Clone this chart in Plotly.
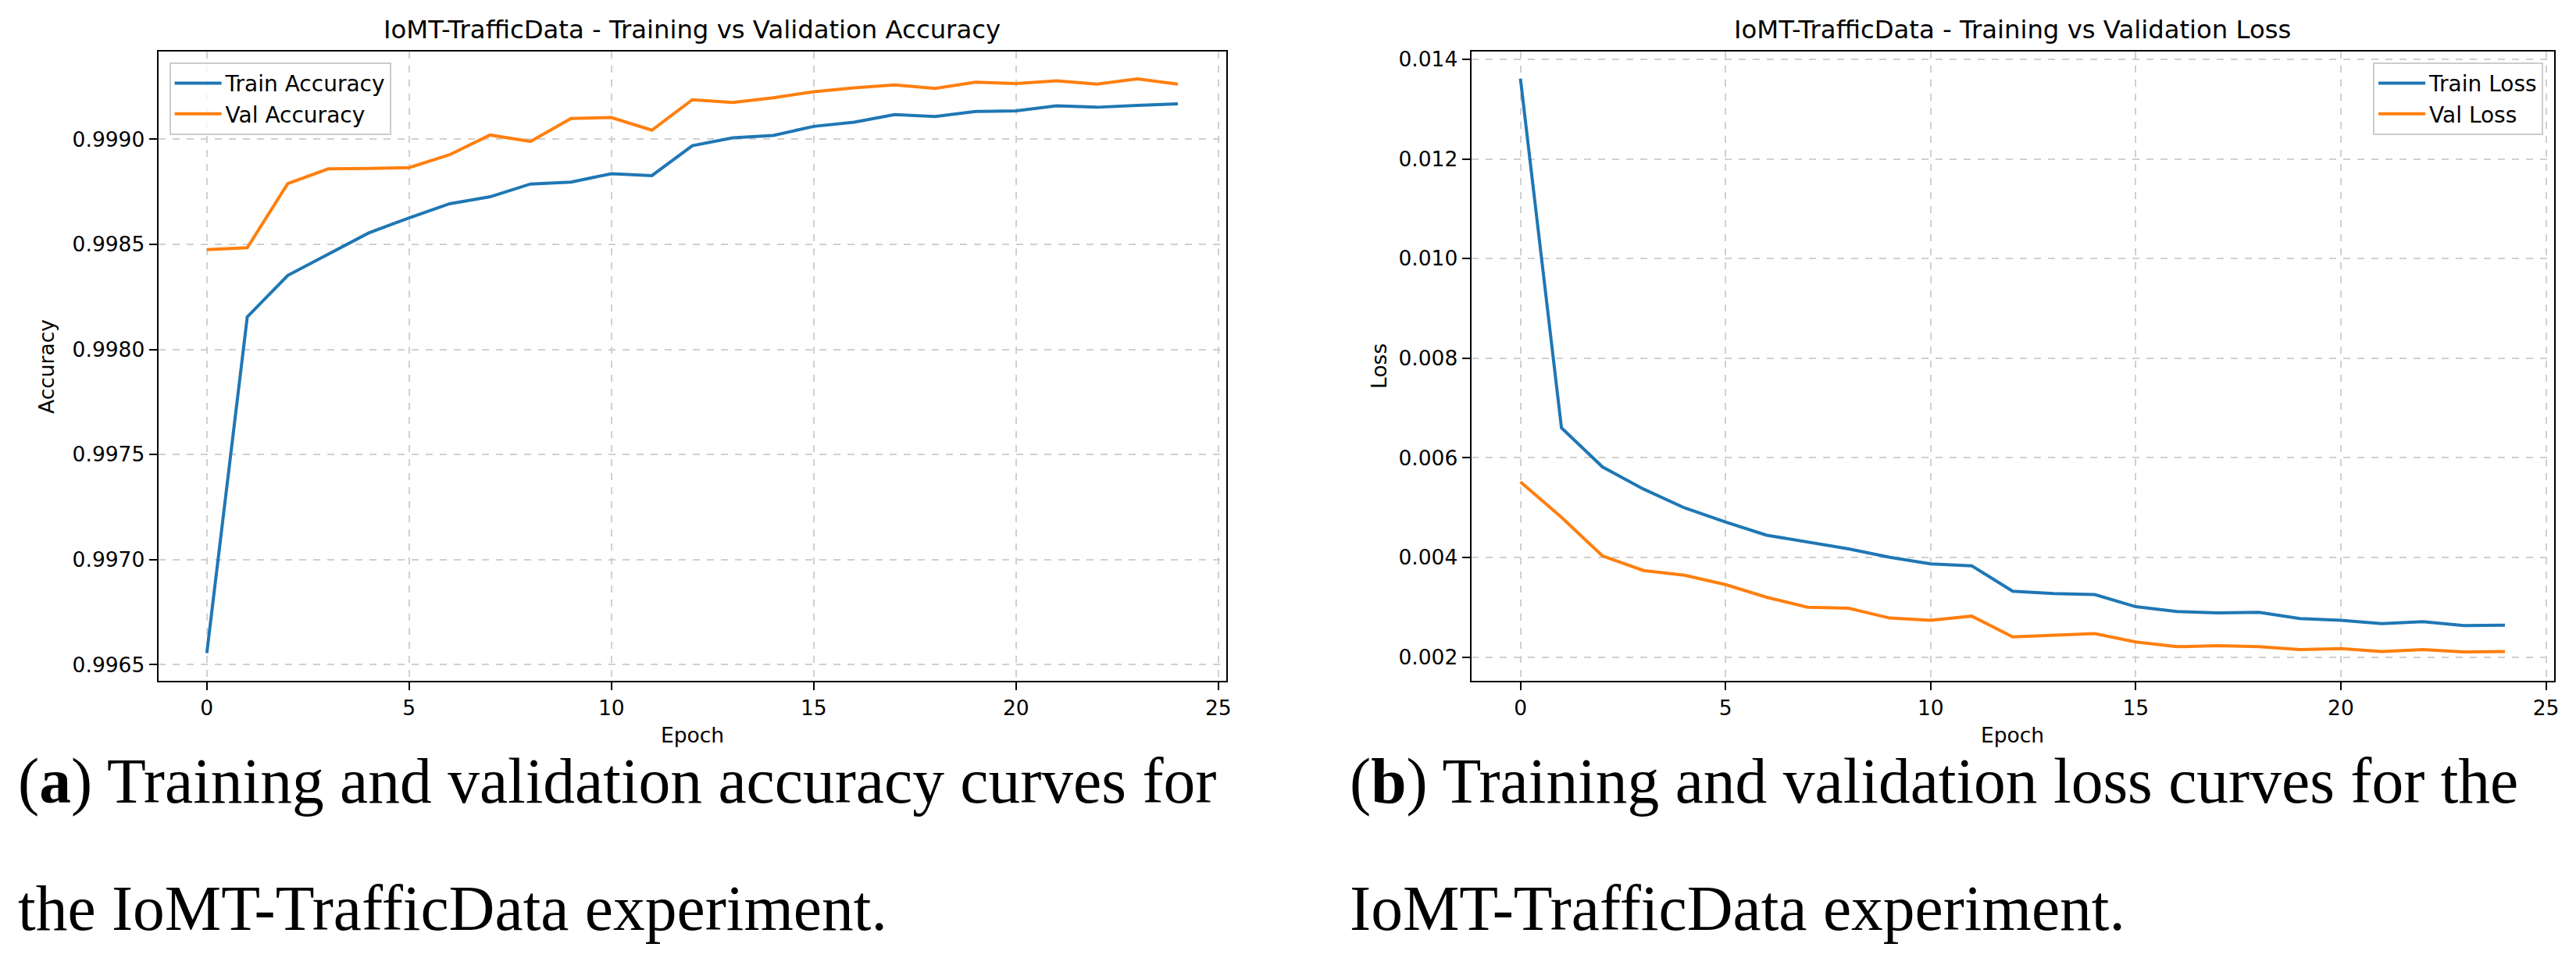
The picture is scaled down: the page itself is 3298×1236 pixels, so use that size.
import plotly.graph_objects as go

epochs = list(range(25))

train_acc = [0.996556, 0.998155, 0.998352, 0.998455, 0.998554, 0.998626, 0.998693, 0.998726,
             0.998787, 0.998796, 0.998836, 0.998827, 0.998969, 0.999007, 0.999018, 0.999061,
             0.999081, 0.999117, 0.999108, 0.999132, 0.999135, 0.999159, 0.999152, 0.999161,
             0.999168]
val_acc = [0.998475, 0.998484, 0.998789, 0.998859, 0.998861, 0.998865, 0.998926, 0.999020,
           0.998989, 0.999099, 0.999103, 0.999043, 0.999188, 0.999175, 0.999197, 0.999226,
           0.999244, 0.999258, 0.999242, 0.999271, 0.999265, 0.999278, 0.999262, 0.999287,
           0.999262]
train_loss = [0.01361, 0.006601, 0.005817, 0.005373, 0.004995, 0.004711, 0.004447, 0.004305,
              0.004173, 0.004003, 0.003870, 0.003833, 0.003322, 0.003275, 0.003256, 0.003011,
              0.002916, 0.002888, 0.002897, 0.002775, 0.002737, 0.002671, 0.002709, 0.002633,
              0.002642]
val_loss = [0.005515, 0.004806, 0.004031, 0.003738, 0.003644, 0.003455, 0.003200, 0.003001,
            0.002982, 0.002784, 0.002737, 0.002822, 0.002406, 0.002435, 0.002472, 0.002302,
            0.002208, 0.002227, 0.002208, 0.002151, 0.002170, 0.002113, 0.002151, 0.002104,
            0.002113]

x_ticks = [0, 5, 10, 15, 20, 25]
acc_ticks = [0.9965, 0.9970, 0.9975, 0.9980, 0.9985, 0.9990]
loss_ticks = [0.002, 0.004, 0.006, 0.008, 0.010, 0.012, 0.014]

titles = ["IoMT-TrafficData - Training vs Validation Accuracy",
          "IoMT-TrafficData - Training vs Validation Loss"]
captions_a = ["(<b>a</b>) Training and validation accuracy curves for",
              "the IoMT-TrafficData experiment."]
captions_b = ["(<b>b</b>) Training and validation loss curves for the",
              "IoMT-TrafficData experiment."]

W, H = 3298, 1236
BLUE = "#1f77b4"
ORANGE = "#ff7f0e"
GRID = "#d0d0d0"
FONT = "DejaVu Sans"
FS = 26.5

def px_x(p):
    return p / W

def px_y(p):
    return 1 - p / H

fig = go.Figure()
fig.add_trace(go.Scatter(x=epochs, y=train_acc, mode="lines", name="Train Accuracy",
                         line=dict(color=BLUE, width=4), xaxis="x", yaxis="y", legend="legend"))
fig.add_trace(go.Scatter(x=epochs, y=val_acc, mode="lines", name="Val Accuracy",
                         line=dict(color=ORANGE, width=4), xaxis="x", yaxis="y", legend="legend"))
fig.add_trace(go.Scatter(x=epochs, y=train_loss, mode="lines", name="Train Loss",
                         line=dict(color=BLUE, width=4), xaxis="x2", yaxis="y2", legend="legend2"))
fig.add_trace(go.Scatter(x=epochs, y=val_loss, mode="lines", name="Val Loss",
                         line=dict(color=ORANGE, width=4), xaxis="x2", yaxis="y2", legend="legend2"))

axis_common = dict(
    showline=True, linecolor="black", linewidth=2, mirror=True,
    ticks="outside", ticklen=10, tickwidth=2, tickcolor="black",
    showgrid=True, gridcolor=GRID, gridwidth=1.5, griddash="dash",
    zeroline=False, tickfont=dict(family=FONT, size=FS, color="black"),
)

top, bottom = 61, 871
legend_common = dict(bgcolor="rgba(255,255,255,0.8)", bordercolor="#cccccc", borderwidth=2,
                     itemwidth=60, font=dict(family=FONT, size=28, color="black"))
fig.update_layout(
    width=W, height=H, autosize=False,
    margin=dict(l=0, r=0, t=0, b=0),
    paper_bgcolor="white", plot_bgcolor="white",
    font=dict(family=FONT, color="black"),
    xaxis=dict(domain=[px_x(203), px_x(1573)], range=[-1.2, 25.2], tickvals=x_ticks,
               anchor="y", **axis_common),
    yaxis=dict(domain=[px_y(bottom), px_y(top)], range=[0.996422, 0.999418], tickvals=acc_ticks,
               tickformat=".4f", anchor="x", **axis_common),
    xaxis2=dict(domain=[px_x(1887), px_x(3276)], range=[-1.2, 25.2], tickvals=x_ticks,
                anchor="y2", **axis_common),
    yaxis2=dict(domain=[px_y(bottom), px_y(top)], range=[0.001516, 0.01416], tickvals=loss_ticks,
                tickformat=".3f", anchor="x2", **axis_common),
    legend=dict(x=px_x(217), y=px_y(75), xanchor="left", yanchor="top", **legend_common),
    legend2=dict(x=px_x(3262), y=px_y(75), xanchor="right", yanchor="top", **legend_common),
)

ann = []
for cx, t in [((203 + 1573) / 2, titles[0]), ((1887 + 3276) / 2, titles[1])]:
    ann.append(dict(text=t, x=px_x(cx), y=px_y(33), xref="paper", yref="paper",
                    xanchor="center", yanchor="middle", showarrow=False,
                    font=dict(family=FONT, size=32.3, color="black")))
for cx in [(203 + 1573) / 2, (1887 + 3276) / 2]:
    ann.append(dict(text="Epoch", x=px_x(cx), y=px_y(940), xref="paper", yref="paper",
                    xanchor="center", yanchor="middle", showarrow=False,
                    font=dict(family=FONT, size=FS, color="black")))
ann.append(dict(text="Accuracy", x=px_x(59), y=px_y((top + bottom) / 2), xref="paper", yref="paper",
                xanchor="center", yanchor="middle", showarrow=False, textangle=-90,
                font=dict(family=FONT, size=FS, color="black")))
ann.append(dict(text="Loss", x=px_x(1768), y=px_y((top + bottom) / 2), xref="paper", yref="paper",
                xanchor="center", yanchor="middle", showarrow=False, textangle=-90,
                font=dict(family=FONT, size=FS, color="black")))
CAP = dict(family="Liberation Serif", size=81.5, color="black")
for x0, lines in [(21, captions_a), (1729, captions_b)]:
    for yy, txt in zip([1000, 1163], lines):
        ann.append(dict(text=txt, x=px_x(x0), y=px_y(yy), xref="paper", yref="paper",
                        xanchor="left", yanchor="middle", showarrow=False, font=CAP))
fig.update_layout(annotations=ann)

fig.write_html("out.html")
